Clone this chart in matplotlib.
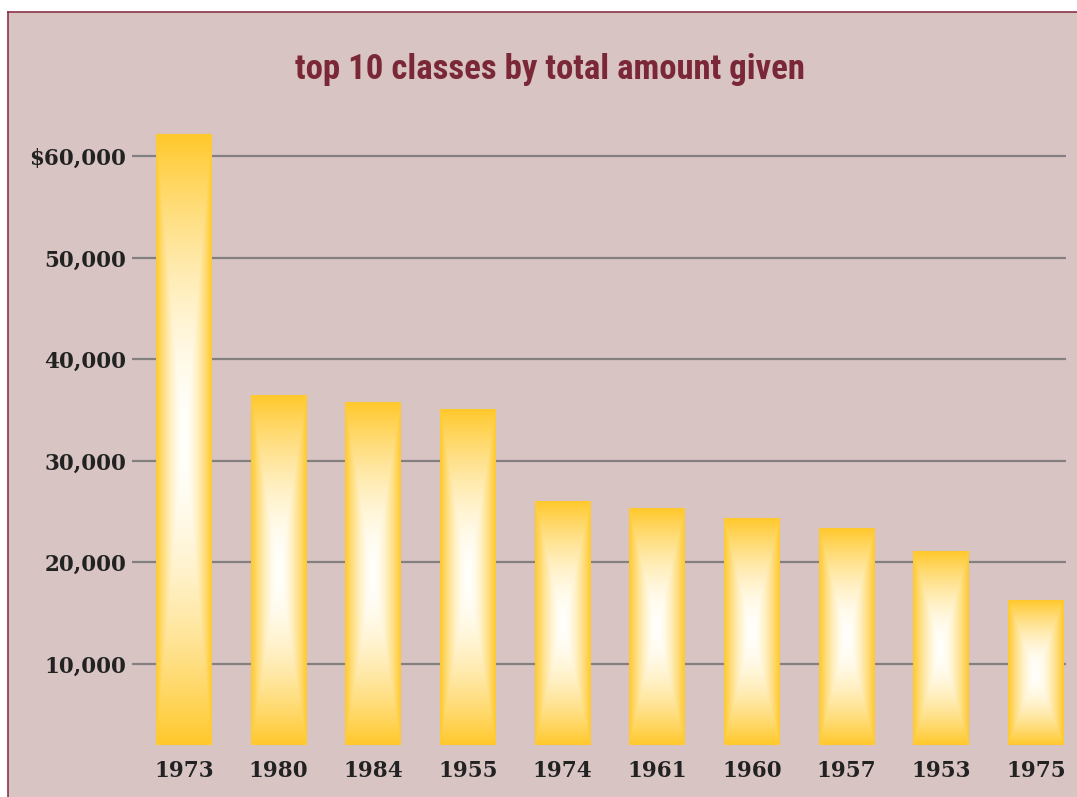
import numpy as np
import matplotlib
matplotlib.use("Agg")
import matplotlib.pyplot as plt
from matplotlib import font_manager
from matplotlib.patches import Rectangle
from matplotlib.lines import Line2D

# ---- data ----
classes = ["1973", "1980", "1984", "1955", "1974", "1961", "1960", "1957", "1953", "1975"]
amounts = [62100, 36400, 35700, 35100, 26000, 25300, 24300, 23300, 21100, 16200]
y_ticks = [10000, 20000, 30000, 40000, 50000, 60000]
y_tick_labels = ["10,000", "20,000", "30,000", "40,000", "50,000", "$60,000"]
title = "top 10 classes by total amount given"

W, H = 1077, 797
fig = plt.figure(figsize=(W / 100, H / 100), dpi=100)
fig.patch.set_facecolor("white")

bg = "#D9C4C4"
border = "#8C3348"
# panel background with left/top border
fig.add_artist(Rectangle((8 / W, 0), 1 - 8 / W, (H - 12) / H, transform=fig.transFigure,
                         facecolor=bg, edgecolor="none", zorder=0))
fig.add_artist(Line2D([8 / W, 8 / W], [0, (H - 12) / H], transform=fig.transFigure,
                      color=border, lw=1.2, zorder=1))
fig.add_artist(Line2D([8 / W, 1], [(H - 12) / H, (H - 12) / H], transform=fig.transFigure,
                      color=border, lw=1.2, zorder=1))

names = {f.name for f in font_manager.fontManager.ttflist}
title_font = next((f for f in ["Liberation Sans Narrow", "DejaVu Sans Condensed", "Roboto Condensed",
                               "Open Sans Condensed", "Liberation Sans"] if f in names), "DejaVu Sans")

ax_left, ax_right = 132, 1066
ax_bottom_px = 745
ymin, ymax = 2000, 63000
px_per_unit = 101.5 / 10000
ax_h = (ymax - ymin) * px_per_unit
ax = fig.add_axes([ax_left / W, (H - ax_bottom_px) / H, (ax_right - ax_left) / W, ax_h / H])
ax.set_facecolor("none")
for s in ax.spines.values():
    s.set_visible(False)

x = np.arange(len(classes))
bar_w = 0.59
bars = ax.bar(x, amounts, width=bar_w, color="none", edgecolor="none", zorder=3)

ax.set_xlim(-0.549, len(classes) - 1 + 0.317)
ax.set_ylim(ymin, ymax)

# pyramid gradient fill for each bar (visible part only)
yellow = np.array([1.0, 0.785, 0.17])
white = np.array([1.0, 1.0, 0.99])
for b in bars:
    bx, bw, bh = b.get_x(), b.get_width(), b.get_height()
    y0 = max(b.get_y(), ymin)
    u = np.linspace(-1, 1, 120)[None, :]
    v = np.linspace(-1, 1, 400)[:, None]
    t = np.maximum(np.abs(u) * np.ones_like(v), np.abs(v) * np.ones_like(u))
    f = t ** 1.7
    img = white[None, None, :] * (1 - f[..., None]) + yellow[None, None, :] * f[..., None]
    ax.imshow(img, extent=(bx, bx + bw, y0, bh), aspect="auto", origin="lower",
              interpolation="bilinear", zorder=3)

ax.set_yticks(y_ticks)
ax.set_yticklabels(y_tick_labels)
ax.set_xticks(x)
ax.set_xticklabels(classes)
ax.tick_params(axis="both", length=0, labelsize=15.5, labelcolor="#222222")
ax.tick_params(axis="y", pad=4)
ax.tick_params(axis="x", pad=11)
for lab in ax.get_xticklabels() + ax.get_yticklabels():
    lab.set_fontfamily("DejaVu Serif")
    lab.set_fontweight("bold")

ax.yaxis.grid(True, color="#858080", lw=1.6, zorder=1)
ax.set_axisbelow(True)

fig.text(550 / W, (H - 70) / H, title, ha="center", va="center", fontsize=25,
         fontweight="bold", color="#7A2838", family=title_font)

fig.savefig("out.png", dpi=100, facecolor=fig.get_facecolor())
